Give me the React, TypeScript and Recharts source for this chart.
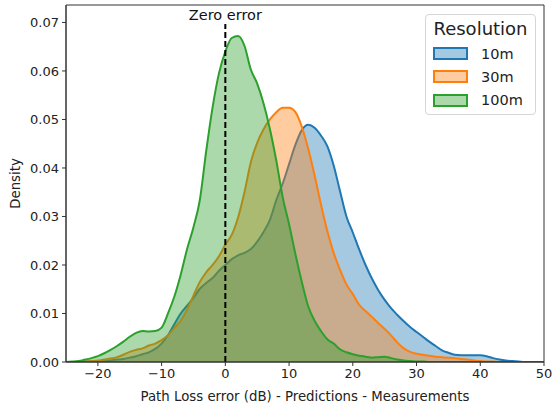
import { Area, ComposedChart, Legend, ReferenceArea, ReferenceDot, ReferenceLine, XAxis, YAxis } from 'recharts';

// path loss error grid (dB)
const errorDb = [
    -25, -24, -23, -22, -21, -20, -19, -18, -17, -16, -15, -14, -13, -12, -11, -10, -9, -8, -7, -6, -5, -4, -3, -2, -1,
    0, 1, 2, 3, 4, 5, 6, 7, 8, 9, 10, 11, 12, 13, 14, 15, 16, 17, 18, 19, 20, 21, 22, 23, 24, 25, 26, 27, 28, 29, 30,
    31, 32, 33, 34, 35, 36, 37, 38, 39, 40, 41, 42, 43, 44, 45, 46, 47, 48, 49, 50,
];

const density10m = [
    0, 0, 0, 0.0001, 0.0001, 0.0002, 0.0002, 0.0003, 0.0005, 0.0006, 0.0009, 0.0012, 0.0016, 0.002, 0.0027, 0.0038,
    0.0055, 0.0078, 0.01, 0.0116, 0.0132, 0.0151, 0.0163, 0.0173, 0.0188,
    0.02, 0.0212, 0.022, 0.0225, 0.0233, 0.0248, 0.0268, 0.0293, 0.0334, 0.0368, 0.0408, 0.0448, 0.0478, 0.0489, 0.0483,
    0.0467, 0.0445, 0.0405, 0.0352, 0.03, 0.0267, 0.0232, 0.02, 0.0172, 0.0148, 0.0128, 0.0111, 0.0097, 0.0084, 0.0072,
    0.0062, 0.0052, 0.0042, 0.0033, 0.0024, 0.0019, 0.0015, 0.0014, 0.0014, 0.0014, 0.0014, 0.0012, 0.0008, 0.0005,
    0.0003, 0.0002, 0.0001, 0, 0, 0, 0,
];

const density30m = [
    0, 0, 0.0001, 0.0001, 0.0002, 0.0003, 0.0005, 0.0007, 0.001, 0.0015, 0.0021, 0.0025, 0.0028, 0.0034, 0.0038, 0.0045,
    0.0055, 0.007, 0.0085, 0.0108, 0.0137, 0.0165, 0.0185, 0.02, 0.0218,
    0.0242, 0.0262, 0.0298, 0.035, 0.0412, 0.0452, 0.048, 0.05, 0.0515, 0.0524, 0.0524, 0.0515, 0.0485, 0.044, 0.0385,
    0.0325, 0.027, 0.0225, 0.019, 0.016, 0.014, 0.0118, 0.0105, 0.0093, 0.008, 0.0068, 0.0055, 0.004, 0.0028, 0.0021,
    0.0017, 0.0015, 0.0013, 0.0011, 0.001, 0.0009, 0.0008, 0.0006, 0.0005, 0.0003, 0.0002, 0.0001, 0.0001, 0, 0, 0, 0,
    0, 0, 0, 0,
];

const density100m = [
    0, 0.0001, 0.0002, 0.0005, 0.0008, 0.0012, 0.0018, 0.0025, 0.0033, 0.0042, 0.0052, 0.006, 0.0064, 0.0063, 0.0064,
    0.0071, 0.01, 0.0135, 0.018, 0.0233, 0.0278, 0.0334, 0.0435, 0.0525, 0.0595,
    0.064, 0.0668, 0.0672, 0.0652, 0.0603, 0.0574, 0.0533, 0.048, 0.0415, 0.034, 0.0284, 0.0222, 0.0165, 0.0115, 0.0085,
    0.0064, 0.0047, 0.0038, 0.0026, 0.002, 0.0016, 0.0013, 0.0011, 0.0009, 0.001, 0.0011, 0.0008, 0.0005, 0.0003, 0.0002,
    0.0001, 0.0001, 0, 0, 0, 0, 0, 0, 0, 0, 0, 0, 0, 0, 0, 0, 0, 0, 0, 0, 0,
];

const xTicks = [-20, -10, 0, 10, 20, 30, 40, 50];
const yTicks = [0, 0.01, 0.02, 0.03, 0.04, 0.05, 0.06, 0.07];

const series = [
    { key: 'r10', name: '10m', color: '#1f77b4', fill: 'rgba(31,119,180,0.4)' },
    { key: 'r30', name: '30m', color: '#ff7f0e', fill: 'rgba(255,127,14,0.4)' },
    { key: 'r100', name: '100m', color: '#2ca02c', fill: 'rgba(44,160,44,0.4)' },
];

const data = errorDb.map((x, i) => ({
    x,
    r10: density10m[i],
    r30: density30m[i],
    r100: density100m[i],
}));

const font = '"DejaVu Sans", sans-serif';
const tickStyle = { fontSize: 13, fill: '#222', fontFamily: font };

const fmtX = (v: number) => (v < 0 ? '\u2212' + Math.abs(v) : String(v));

const renderLegend = () => (
    <div
        style={{
            boxSizing: 'border-box',
            width: 111,
            height: 101,
            border: '1px solid #d6d6d6',
            borderRadius: 4,
            background: 'rgba(255,255,255,0.8)',
            fontFamily: font,
            color: '#222',
            paddingLeft: 7,
        }}
    >
        <div style={{ fontSize: 18, lineHeight: '22px', paddingTop: 3, textAlign: 'center', marginLeft: -7 }}>
            Resolution
        </div>
        <div style={{ marginTop: 2 }}>
            {series.map((s) => (
                <div key={s.key} style={{ display: 'flex', alignItems: 'center', height: 23.3 }}>
                    <span
                        style={{
                            boxSizing: 'border-box',
                            display: 'inline-block',
                            width: 35,
                            height: 13,
                            background: s.fill,
                            border: `2px solid ${s.color}`,
                        }}
                    />
                    <span style={{ marginLeft: 13, fontSize: 14.5 }}>{s.name}</span>
                </div>
            ))}
        </div>
    </div>
);

const App = () => {
    return (
        <div style={{ position: 'absolute', left: 0, top: 0, width: 553, height: 407, background: '#fff' }}>
            <ComposedChart width={553} height={407} data={data} margin={{ top: 5, right: 9, left: 0, bottom: 0 }}>
                <XAxis
                    dataKey="x"
                    type="number"
                    domain={[-25, 50]}
                    ticks={xTicks}
                    tickFormatter={fmtX}
                    tick={tickStyle}
                    tickSize={4}
                    tickMargin={3}
                    height={45}
                    stroke="#333"
                    allowDataOverflow
                    label={{
                        value: 'Path Loss error (dB) - Predictions - Measurements',
                        position: 'insideBottom',
                        offset: 6,
                        style: { fontSize: 13.3, fill: '#222', fontFamily: font },
                    }}
                />
                <YAxis
                    type="number"
                    domain={[0, 0.0736]}
                    ticks={yTicks}
                    tickFormatter={(v: number) => v.toFixed(2)}
                    tick={tickStyle}
                    tickSize={4}
                    tickMargin={3}
                    width={66}
                    stroke="#333"
                    allowDataOverflow
                    label={{
                        value: 'Density',
                        angle: -90,
                        position: 'insideLeft',
                        offset: 15,
                        style: { fontSize: 13.3, fill: '#222', fontFamily: font, textAnchor: 'middle' },
                    }}
                />
                {series.map((s) => (
                    <Area
                        key={s.key}
                        type="monotone"
                        dataKey={s.key}
                        name={s.name}
                        stroke={s.color}
                        strokeWidth={2}
                        fill={s.fill}
                        fillOpacity={1}
                        baseValue={0}
                        dot={false}
                        activeDot={false}
                        isAnimationActive={false}
                    />
                ))}
                <ReferenceLine
                    segment={[
                        { x: 0, y: 0 },
                        { x: 0, y: 0.0697 },
                    ]}
                    stroke="#000"
                    strokeWidth={2}
                    strokeDasharray="6 3"
                />
                <ReferenceDot
                    x={0}
                    y={0.0697}
                    r={0}
                    fill="none"
                    stroke="none"
                    label={{
                        value: 'Zero error',
                        position: 'top',
                        offset: 4,
                        style: { fontSize: 14.5, fill: '#111', fontFamily: font },
                    }}
                />
                <ReferenceArea x1={-25} x2={50} y1={0} y2={0.0736} fill="none" stroke="#333" strokeWidth={1} />
                <Legend
                    layout="vertical"
                    align="center"
                    verticalAlign="middle"
                    content={renderLegend}
                    wrapperStyle={{ left: 425, top: 14, width: 111, height: 101 }}
                />
            </ComposedChart>
        </div>
    );
};

export default App;
